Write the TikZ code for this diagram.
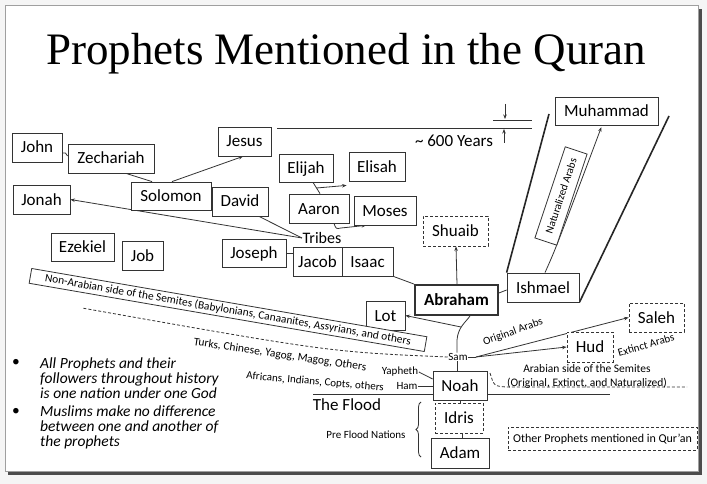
\documentclass[tikz,border=0pt]{standalone}
\usepackage{fontspec}
\setmainfont{Carlito}
\newfontfamily\titlefont{Liberation Serif}
\usetikzlibrary{arrows.meta,calc,decorations.pathreplacing}
\pgfdeclarelayer{backdrop}
\pgfdeclarelayer{lines}
\pgfsetlayers{backdrop,lines,main}
\newcommand{\fs}[1]{\fontsize{#1}{#1}\selectfont}
\begin{document}
\begin{tikzpicture}[x=1pt,y=-1pt,
  pbox/.style={draw=black!80, line width=0.8pt, fill=white, inner sep=0pt, font=\fs{17}, text height=11.5pt, text depth=0.5pt},
  dbox/.style={pbox, dash pattern=on 3pt off 2pt},
  ln/.style={draw=black!80, line width=0.8pt},
  dln/.style={ln, dash pattern=on 3pt off 2pt},
  arr/.style={ln, -{Stealth[length=4.5pt,width=3.5pt]}},
  lbl/.style={inner sep=0.5pt, font=\fs{11}},
  slant/.style={draw=black!80, line width=0.8pt, fill=white, inner sep=0pt},
  heavy/.style={draw=black!85, line width=1.6pt},
]
\useasboundingbox (0,0) rectangle (707,484);
\begin{pgfonlayer}{backdrop}
\fill[gray!8] (0,0) rectangle (707,484);
\fill[black!70] (8,9) rectangle (702,475);
\filldraw[fill=white, draw=gray!75, line width=1pt] (5,6) rectangle (698,471);
\end{pgfonlayer}

% title
\node[font=\titlefont\fs{45}, anchor=base, inner sep=0pt] (title) at (346,65) {Prophets Mentioned in the Quran};

% prophet boxes
\node[pbox, minimum width=50pt, minimum height=29pt] (john) at (37,147.5) {John};
\node[pbox, minimum width=86pt, minimum height=29pt] (zech) at (111,158.5) {Zechariah};
\node[pbox, minimum width=53pt, minimum height=29pt] (jesus) at (244.5,141.5) {Jesus};
\node[pbox, minimum width=57pt, minimum height=29pt] (jonah) at (41.5,199.5) {Jonah};
\node[pbox, minimum width=80pt, minimum height=28pt] (solomon) at (171,196) {Solomon};
\node[pbox, minimum width=56pt, minimum height=29pt] (david) at (240,201.5) {David};
\node[pbox, minimum width=63pt, minimum height=28pt] (ezekiel) at (82.5,247) {Ezekiel};
\node[pbox, minimum width=41pt, minimum height=29pt] (job) at (142.5,255.5) {Job};
\node[pbox, minimum width=54pt, minimum height=28pt] (elijah) at (306,168) {Elijah};
\node[pbox, minimum width=56pt, minimum height=29pt] (elisah) at (377,166.5) {Elisah};
\node[pbox, minimum width=60pt, minimum height=29pt] (aaron) at (319,208.5) {Aaron};
\node[pbox, minimum width=62pt, minimum height=29pt] (moses) at (385,210.5) {Moses};
\node[pbox, minimum width=64pt, minimum height=28pt] (joseph) at (254,253) {Joseph};
\node[pbox, minimum width=49pt, minimum height=29pt] (jacob) at (317.5,261.5) {Jacob};
\node[pbox, minimum width=51pt, minimum height=29pt] (isaac) at (367.5,261.5) {Isaac};
\node[dbox, minimum width=65pt, minimum height=30pt] (shuaib) at (455.5,231) {Shuaib};
\node[pbox, minimum width=103pt, minimum height=28pt] (muhammad) at (606.5,111) {Muhammad};
\node[pbox, minimum width=72pt, minimum height=29pt] (ishmael) at (543,287.5) {Ishmael};
\node[pbox, line width=1.8pt, minimum width=83pt, minimum height=30pt, font=\fs{17}\bfseries] (abraham) at (456.5,300) {Abraham};
\node[pbox, minimum width=39pt, minimum height=29pt] (lot) at (385.5,315.5) {Lot};
\node[dbox, minimum width=55pt, minimum height=29pt] (saleh) at (656.5,317.5) {Saleh};
\node[dbox, minimum width=46pt, minimum height=30pt] (hud) at (590,347) {Hud};
\node[pbox, minimum width=54pt, minimum height=29pt] (noah) at (460,385.5) {Noah};
\node[dbox, minimum width=48pt, minimum height=30pt] (idris) at (459,418) {Idris};
\node[pbox, minimum width=58pt, minimum height=30pt] (adam) at (460,453) {Adam};
\node[dbox, minimum width=189pt, minimum height=23pt, font=\fs{12}, text height=8.5pt, text depth=1pt] (other) at (602.5,438.5) {Other Prophets mentioned in Qur’an};

% slanted label boxes
\node[slant, rotate=-9.8, minimum width=401pt, minimum height=15pt, font=\fs{11.4}] (nonarab) at (228,310) {Non-Arabian side of the Semites (Babylonians, Canaanites, Assyrians, and others};
\node[slant, rotate=71.6, minimum width=96pt, minimum height=23pt, font=\fs{11}] (natarabs) at (561,196) {Naturalized Arabs};

% text labels
\node[lbl, font=\fs{16}] (tribes) at (322,238) {Tribes};
\node[lbl, font=\fs{17}] (years) at (454,141) {\textasciitilde{} 600 Years};
\node[lbl, fill=white] (sam) at (458,357) {Sam};
\node[lbl] (yapheth) at (400,372) {Yapheth};
\node[lbl] (ham) at (407,386.5) {Ham};
\node[lbl, font=\fs{17}] (flood) at (347,405) {The Flood};
\node[lbl] (preflood) at (366,435) {Pre Flood Nations};
\node[lbl, rotate=20] (origarabs) at (513,332) {Original Arabs};
\node[lbl, rotate=16] (extinct) at (646,345) {Extinct Arabs};
\node[lbl, font=\fontsize{11.5}{14}\selectfont, align=center] (arabside) at (587,376) {Arabian side of the Semites\\(Original, Extinct, and Naturalized)};
\node[lbl, font=\fs{11.5}, rotate=-8.4] (turks) at (280,355) {Turks, Chinese, Yagog, Magog, Others};
\node[lbl, rotate=-5] (africans) at (315,382) {Africans, Indians, Copts, others};

% bullets
\node[font=\fs{15.5}, inner sep=0pt] (b1) at (16,363) {•};
\node[font=\fontsize{15.5}{15}\selectfont\itshape, align=left, anchor=west, inner sep=0pt] (t1) at (40,378) {All Prophets and their\\followers throughout history\\is one nation under one God};
\node[font=\fs{15.5}, inner sep=0pt] (b2) at (16,412) {•};
\node[font=\fontsize{15.5}{15}\selectfont\itshape, align=left, anchor=west, inner sep=0pt] (t2) at (40,427) {Muslims make no difference\\between one and another of\\the prophets};

% free coordinates
\coordinate (lt) at (549,114);
\coordinate (rt) at (669,116);
\coordinate (tl1) at (277,128);
\coordinate (tl2) at (532,128);
\coordinate (tu1) at (493,120);
\coordinate (tu2) at (532,120);
\coordinate (da1) at (505,104);
\coordinate (da2) at (505,119);
\coordinate (ua1) at (504,143);
\coordinate (ua2) at (504,129);
\coordinate (stemlot) at (461,327);
\coordinate (samr) at (476,357);
\coordinate (nadash) at (82,308);
\coordinate (floodl) at (313,394);
\coordinate (floodr) at (610,394);
\coordinate (ad1) at (490,373);
\coordinate (ad2) at (687,387);
\coordinate (br1) at (421,457);
\coordinate (br2) at (421,402);

\begin{pgfonlayer}{lines}
\draw[ln] (john.east |- 0,153) -- ++(3,0) -- (zech.west |- 0,156);
\draw[ln] (solomon.north -| 152,0) -- (zech.south -| 126,0);
\draw[arr] (solomon.north -| 172,0) -- (jesus.south -| 243,0);
\draw[ln] (solomon.east) -- (david.west |- solomon.east);
\draw[arr] (tribes.west) -- (jonah.east);
\draw[ln] (david.south -| 259,0) -- (tribes.west);
\draw[ln] (joseph.east) -- (jacob.west |- joseph.east);
\draw[ln] (aaron.north -| 320,0) coordinate (ea1) -- (elijah.south -| 313,0) coordinate (ea2);
\draw[arr] ($(ea1)!0.5!(ea2)$) -- ($(elisah.south west)+(-2,4)$);
\draw[arr] (aaron.south -| 334,0) .. controls (336,229) .. (341,228) -- (moses.south -| 366,0);
\draw[ln] (isaac.south east) -- (abraham.north west);
\draw[arr] (abraham.north -| 457,0) -- (shuaib.south -| 456,0);
\draw[ln] (abraham.east |- 0,293) -- (ishmael.west |- 0,290);
\draw[arr, shorten >=2pt] (ishmael.north -| 545,0) .. controls (556,248) .. (muhammad.south -| 602,0);
\draw[heavy] (ishmael.north west) -- (lt);
\draw[heavy] (ishmael.south east) -- (rt);
\draw[ln] (tl1) -- (tl2);
\draw[ln] (tu1) -- (tu2);
\draw[arr] (da1) -- (da2);
\draw[arr] (ua1) -- (ua2);
% stem Noah - Abraham
\draw[ln] (noah.north -| 457,0) -- (sam.south -| 457,0);
\draw[ln] (sam.north -| 457,0) -- (457,340) .. controls (458,327) and (466,322) .. (abraham.south -| 470,0);
\draw[arr] (stemlot) -- (lot.east);
\draw[ln] (sam.east) -- (samr);
\draw[arr] (samr) -- (saleh.west);
\draw[arr] (samr) -- (hud.west);
\draw[dln] (sam.west) .. controls (330,352) .. (nadash);
\draw[ln] (yapheth.east) -- (noah.west |- 0,379);
\draw[ln] (ham.east) -- (noah.west |- ham.east);
\draw[ln] (floodl) -- (floodr);
\draw[dln] (ad1) .. controls (494,386) .. (506,387) -- (ad2);
\draw[ln] (noah.south -| 460,0) -- (idris.north -| 460,0);
\draw[ln] (idris.south -| 462,0) -- (adam.north -| 462,0);
\draw[ln, decorate, decoration={brace, amplitude=5pt}] (br1) -- (br2);
\end{pgfonlayer}
\end{tikzpicture}
\end{document}
